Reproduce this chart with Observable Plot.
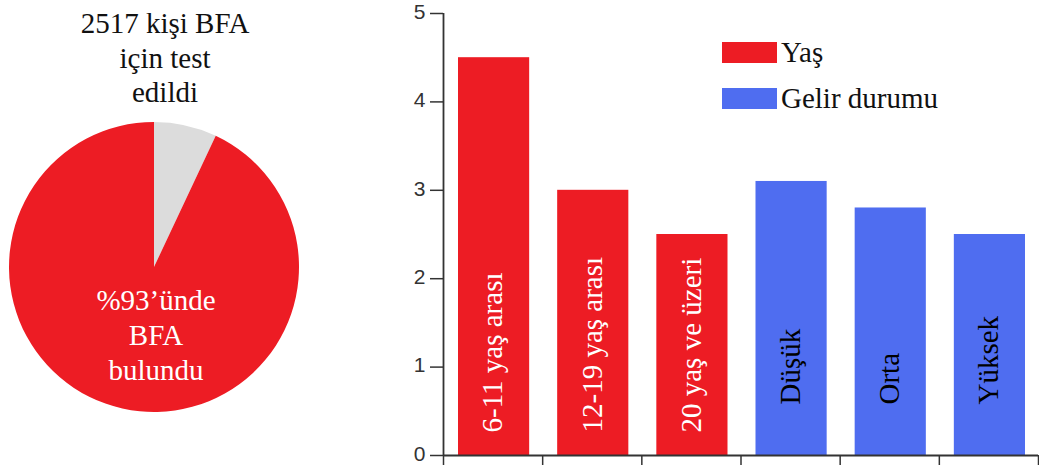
<!DOCTYPE html>
<html><head><meta charset="utf-8">
<script src="https://cdn.jsdelivr.net/npm/d3@7"></script>
<script src="https://cdn.jsdelivr.net/npm/@observablehq/plot@0.6"></script>
<style>
body{margin:0;background:#fff}
#wrap{position:relative;width:1039px;height:466px;overflow:hidden;background:#fff}
#pie{position:absolute;left:0;top:0}
#bars{position:absolute;left:320px;top:0}
#legend{position:absolute;left:0;top:0;pointer-events:none}
</style></head><body>
<div id="wrap"><div id="pie"></div><div id="bars"></div><div id="legend"></div></div>
<script>
// ---- data ----
const pieTitle = ["2517 kişi BFA", "için test", "edildi"];
const pieLabel = ["%93’ünde", "BFA", "bulundu"];
const pieCategories = ["BFA bulunmadı", "BFA bulundu"];
const pieValues = [7, 93];
const pieColors = ["#dcdcdc", "#ed1c24"];

const barCategories = ["6-11 yaş arası", "12-19 yaş arası", "20 yaş ve üzeri", "Düşük", "Orta", "Yüksek"];
const barGroups = ["Yaş", "Yaş", "Yaş", "Gelir durumu", "Gelir durumu", "Gelir durumu"];
const barValues = [4.5, 3.0, 2.5, 3.1, 2.8, 2.5];
const groupNames = ["Yaş", "Gelir durumu"];
const groupColors = ["#ed1c24", "#4f6df0"];
const yTicks = [0, 1, 2, 3, 4, 5];

const SERIF = "'Liberation Serif', 'Times New Roman', serif";
const SANS = "'Liberation Sans', Arial, sans-serif";

// ---- pie ----
function pieMark() {
  const g = d3.create("svg:g");
  const arcs = d3.pie().sort(null)(pieValues);
  const arc = d3.arc().innerRadius(0).outerRadius(145);
  g.append("g").attr("transform", "translate(154,267)")
    .selectAll("path").data(arcs).join("path")
    .attr("d", arc).attr("fill", (d, i) => pieColors[i])
    .append("title").text((d, i) => pieCategories[i] + ": " + pieValues[i] + "%");
  g.append("g").selectAll("text").data(pieTitle).join("text")
    .attr("x", 165).attr("y", (d, i) => 33 + i * 34.5)
    .attr("text-anchor", "middle").attr("font-family", SERIF)
    .attr("font-size", 29).attr("fill", "#111").text(d => d);
  g.append("g").selectAll("text").data(pieLabel).join("text")
    .attr("x", 156).attr("y", (d, i) => 310 + i * 35)
    .attr("text-anchor", "middle").attr("font-family", SERIF)
    .attr("font-size", 29).attr("fill", "#fff").text(d => d);
  return g.node();
}
document.getElementById("pie").append(Plot.plot({
  width: 320, height: 466, margin: 0,
  marks: [pieMark]
}));

// ---- bars ----
const bars = barCategories.map((c, i) => ({i, label: c, group: barGroups[i], value: barValues[i]}));
const chart = Plot.plot({
  width: 719, height: 466,
  marginLeft: 123, marginRight: 1, marginTop: 13, marginBottom: 11,
  style: {background: "transparent", overflow: "visible"},
  x: {domain: [0, barCategories.length]},
  y: {domain: [0, 5]},
  color: {domain: groupNames, range: groupColors},
  marks: [
    Plot.rect(bars, {x1: d => d.i, x2: d => d.i + 1, y1: 0, y2: "value", fill: "group", insetLeft: 15, insetRight: 13}),
    Plot.text(bars, {filter: d => d.group === groupNames[0], x: d => d.i + 0.5, y: 0, text: "label",
      rotate: -90, textAnchor: "start", lineAnchor: "middle", dy: -23,
      fill: "#fff", fontSize: 29, fontFamily: SERIF}),
    Plot.text(bars, {filter: d => d.group === groupNames[1], x: d => d.i + 0.5, y: 0, text: "label",
      rotate: -90, textAnchor: "start", lineAnchor: "middle", dy: -51,
      fill: "#000", fontSize: 29, fontFamily: SERIF}),
    Plot.axisY({ticks: yTicks, tickFormat: () => "", tickSize: 13,
      stroke: "#333", strokeWidth: 1.5, label: null}),
    Plot.axisY({ticks: yTicks, tickFormat: d3.format("d"), tickSize: 0, tickPadding: 18, fontSize: 21, fontFamily: SANS,
      fill: "#333", label: null, dy: -1.5}),
    Plot.axisX({ticks: d3.range(barCategories.length + 1), tickSize: 10, tickFormat: () => "",
      stroke: "#333", strokeWidth: 1.5, label: null}),
    Plot.ruleX([0], {stroke: "#333", strokeWidth: 1.8}),
    Plot.ruleY([0], {stroke: "#333", strokeWidth: 1.8})
  ]
});
document.getElementById("bars").append(chart);

// ---- legend ----
const leg = d3.create("svg").attr("width", 1039).attr("height", 466);
const items = leg.selectAll("g").data(groupNames).join("g")
  .attr("transform", (d, i) => `translate(722,${42 + i * 46})`);
items.append("rect").attr("width", 55).attr("height", 21).attr("fill", (d, i) => groupColors[i]);
items.append("text").attr("x", 59).attr("y", 20).attr("font-family", SERIF)
  .attr("font-size", 29).attr("fill", "#111").text(d => d);
document.getElementById("legend").append(leg.node());
</script>
</body></html>
